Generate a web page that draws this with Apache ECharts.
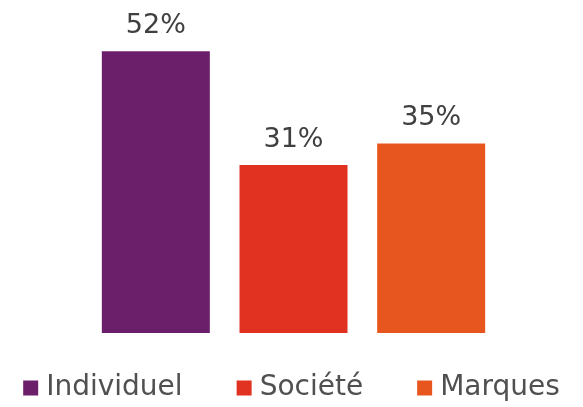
<!DOCTYPE html>
<html>
<head>
<meta charset="utf-8">
<script src="https://cdn.jsdelivr.net/npm/echarts@6/dist/echarts.min.js"></script>
<style>
  html, body { margin: 0; padding: 0; background: #fff; }
  #chart { width: 583px; height: 407px; }
</style>
</head>
<body>
<div id="chart"></div>
<script>
var categories = ['Individuel', 'Société', 'Marques'];
var values = [52, 31, 35];
var colors = ['#6B1F6B', '#E03121', '#E8561F'];

var series = [];
for (var i = 0; i < categories.length; i++) {
    var d = [];
    for (var j = 0; j < categories.length; j++) {
        d.push(j == i ? values[i] : '-');
    }
    series.push({
        name: categories[i],
        type: 'bar',
        stack: 'all',
        barWidth: 108,
        itemStyle: { color: colors[i] },
        label: {
            show: true,
            position: 'top',
            distance: 12,
            formatter: '{c}%',
            fontSize: 27,
            color: '#404040',
            fontFamily: 'DejaVu Sans'
        },
        data: d
    });
}

var myChart = echarts.init(document.getElementById('chart'));
var option = {
    animation: false,
    grid: { left: 87, right: 83, top: 8, bottom: 74 },
    legend: {
        bottom: 0,
        left: 'center',
        icon: 'rect',
        itemWidth: 15,
        itemHeight: 15,
        itemGap: 54,
        textStyle: { fontSize: 28, color: '#505050', fontFamily: 'DejaVu Sans', padding: [0, 0, 0, 3] },
        data: categories
    },
    xAxis: {
        type: 'category',
        data: categories,
        axisLine: { show: false },
        axisTick: { show: false },
        axisLabel: { show: false }
    },
    yAxis: {
        type: 'value',
        min: 0,
        max: 60,
        show: false,
        splitLine: { show: false }
    },
    series: series
};
myChart.setOption(option);
</script>
</body>
</html>
